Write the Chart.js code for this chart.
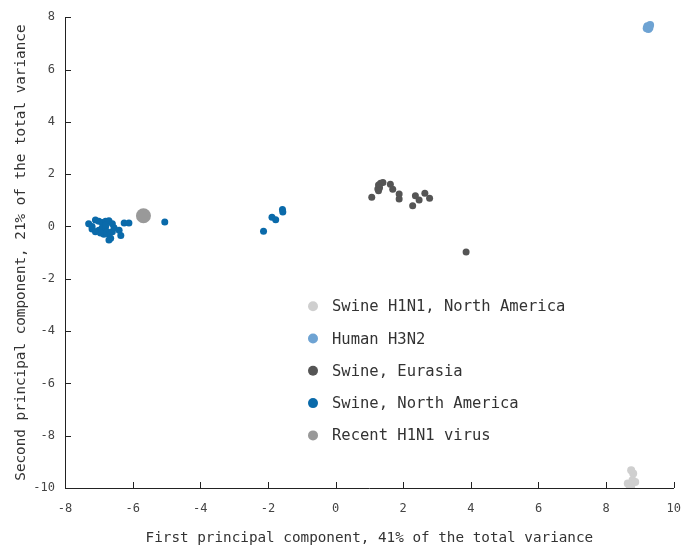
<!DOCTYPE html>
<html>
<head>
<meta charset="utf-8">
<script src="https://cdn.jsdelivr.net/npm/chart.js@4.4.0/dist/chart.umd.min.js"></script>
<style>
  html, body { margin: 0; padding: 0; background: #fff; }
  #wrap { width: 695px; height: 547px; }
</style>
</head>
<body>
<div id="wrap"><canvas id="pcaChart" width="695" height="547"></canvas></div>
<script>
// series labels
const seriesNames = [
  "Swine H1N1, North America",
  "Human H3N2",
  "Swine, Eurasia",
  "Swine, North America",
  "Recent H1N1 virus"
];

// Swine H1N1, North America
const swineH1N1X = [8.74, 8.80, 8.78, 8.64, 8.86, 8.74, 8.70];
const swineH1N1Y = [-9.32, -9.45, -9.70, -9.83, -9.77, -9.95, -10.0];

// Human H3N2
const humanH3N2X = [9.22, 9.28, 9.25, 9.30, 9.20];
const humanH3N2Y = [7.65, 7.60, 7.55, 7.70, 7.58];

// Swine, Eurasia
const eurasiaX = [1.07, 1.27, 1.33, 1.40, 1.25, 1.30, 1.27, 1.62, 1.69, 1.88, 1.88, 2.28, 2.36, 2.47, 2.64, 2.78, 3.86];
const eurasiaY = [1.12, 1.58, 1.65, 1.68, 1.43, 1.48, 1.36, 1.61, 1.42, 1.24, 1.05, 0.79, 1.17, 1.01, 1.27, 1.08, -0.98];

// Swine, North America
const swineNAX = [-7.30, -7.20, -7.10, -7.00, -6.90, -6.80, -6.70, -6.60, -7.20, -7.00, -6.90, -6.80, -6.75, -6.70,
  -6.65, -6.70, -6.85, -6.95, -7.10, -6.60, -6.55, -6.40, -6.35, -6.25, -6.11, -5.05, -6.80,
  -2.13, -1.88, -1.77, -1.57, -1.56];
const swineNAY = [0.10, 0.00, 0.25, 0.20, 0.15, 0.20, 0.22, 0.10, -0.10, -0.15, -0.05, 0.00, -0.20, -0.30,
  -0.45, -0.52, -0.30, -0.25, -0.20, -0.20, -0.05, -0.15, -0.35, 0.13, 0.13, 0.17, 0.05,
  -0.18, 0.35, 0.26, 0.65, 0.55];

// Recent H1N1 virus
const recentX = [-5.68];
const recentY = [0.41];

// axis ticks
const xTicks = [-8, -6, -4, -2, 0, 2, 4, 6, 8, 10];
const yTicks = [-10, -8, -6, -4, -2, 0, 2, 4, 6, 8];

const colors = ["#cfcfcf", "#6ea3d3", "#555555", "#0a6aaa", "#999999"];
const radii = [4, 4, 3.5, 3.5, 7.5];

function pts(xs, ys) {
  return xs.map((x, i) => ({ x: x, y: ys[i] }));
}

const allSeries = [
  pts(swineH1N1X, swineH1N1Y),
  pts(humanH3N2X, humanH3N2Y),
  pts(eurasiaX, eurasiaY),
  pts(swineNAX, swineNAY),
  pts(recentX, recentY)
];

const FONT = "'DejaVu Sans Mono', monospace";

// inward tick marks on both axes
const innerTicks = {
  id: "innerTicks",
  afterDraw(chart) {
    const ctx = chart.ctx;
    const xs = chart.scales.x, ys = chart.scales.y;
    const a = chart.chartArea;
    ctx.save();
    ctx.strokeStyle = "#222";
    ctx.lineWidth = 1;
    ctx.beginPath();
    xTicks.forEach(v => {
      const px = Math.round(xs.getPixelForValue(v)) + 0.5;
      ctx.moveTo(px, a.bottom);
      ctx.lineTo(px, a.bottom - 6);
    });
    yTicks.forEach(v => {
      const py = Math.round(ys.getPixelForValue(v)) + 0.5;
      ctx.moveTo(a.left, py);
      ctx.lineTo(a.left + 6, py);
    });
    ctx.stroke();
    ctx.restore();
  }
};

// legend placed inside the plot
const innerLegend = {
  id: "innerLegend",
  afterDatasetsDraw(chart) {
    const ctx = chart.ctx;
    const a = chart.chartArea;
    const x0 = a.left + 248;
    const y0 = a.top + 289;
    ctx.save();
    ctx.font = "15.5px " + FONT;
    ctx.textBaseline = "middle";
    chart.data.datasets.forEach((ds, i) => {
      const y = y0 + i * 32.3;
      ctx.beginPath();
      ctx.fillStyle = ds.backgroundColor;
      ctx.arc(x0, y, 5, 0, Math.PI * 2);
      ctx.fill();
      ctx.fillStyle = "#333";
      ctx.fillText(ds.label, x0 + 19, y + 1);
    });
    ctx.restore();
  }
};

const ctx = document.getElementById("pcaChart").getContext("2d");

new Chart(ctx, {
  type: "scatter",
  data: {
    datasets: allSeries.map((d, i) => ({
      label: seriesNames[i],
      data: d,
      backgroundColor: colors[i],
      borderWidth: 0,
      pointRadius: radii[i],
      pointHoverRadius: radii[i],
      order: i === 4 ? 0 : 1
    }))
  },
  options: {
    responsive: false,
    animation: false,
    layout: {
      padding: { top: 12, right: 17, left: 0, bottom: 0 }
    },
    plugins: {
      legend: { display: false },
      tooltip: { enabled: false }
    },
    scales: {
      x: {
        type: "linear",
        min: -8,
        max: 10,
        afterBuildTicks: s => { s.ticks = xTicks.map(v => ({ value: v })); },
        afterFit: s => { s.height = 59; },
        grid: { display: false, drawTicks: false },
        border: { display: true, color: "#222", width: 1 },
        ticks: { color: "#444", font: { family: FONT, size: 12 }, padding: 14 },
        title: {
          display: true,
          text: "First principal component, 41% of the total variance",
          color: "#333",
          font: { family: FONT, size: 14.3 },
          padding: { top: 6, bottom: 0 }
        }
      },
      y: {
        type: "linear",
        min: -10,
        max: 8,
        afterBuildTicks: s => { s.ticks = yTicks.map(v => ({ value: v })); },
        afterFit: s => { s.width = 65; },
        grid: { display: false, drawTicks: false },
        border: { display: true, color: "#222", width: 1 },
        ticks: { color: "#444", font: { family: FONT, size: 12 }, padding: 10 },
        title: {
          display: true,
          text: "Second principal component, 21% of the total variance",
          color: "#333",
          font: { family: FONT, size: 14.3 },
          padding: { top: 13, bottom: 0 }
        }
      }
    }
  },
  plugins: [innerTicks, innerLegend]
});
</script>
</body>
</html>
